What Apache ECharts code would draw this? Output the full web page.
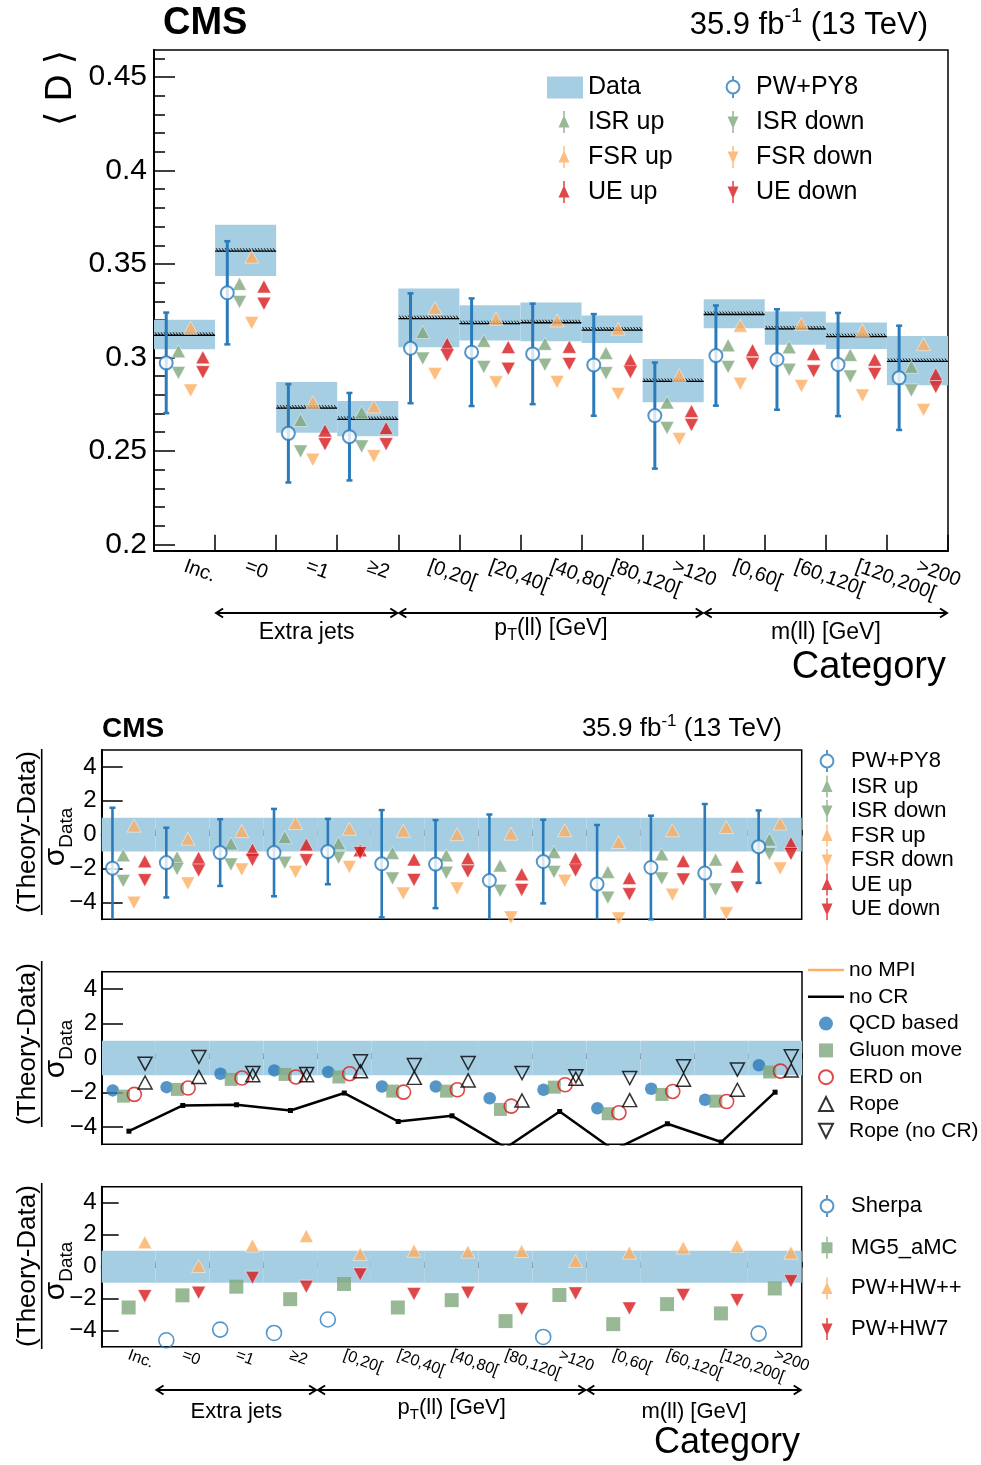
<!DOCTYPE html>
<html>
<head>
<meta charset="utf-8">
<title>CMS mean D</title>
<script src="https://cdn.jsdelivr.net/npm/echarts@6.0.0/dist/echarts.min.js"></script>
<style>
html,body{margin:0;padding:0;background:#ffffff;}
#chart{width:981px;height:1465px;}
</style>
</head>
<body>
<div id="chart"></div>
<script>
// ----------------- data -----------------
const categories = ['Inc.', '=0', '=1', '\u22652', '[0,20[', '[20,40[', '[40,80[', '[80,120[', '>120', '[0,60[', '[60,120[', '[120,200[', '>200'];
const groupLabels = ['{a|Extra jets}', '{a|p}{s|T}{a|(ll) [GeV]}', '{a|m(ll) [GeV]}'];
const groupEdges = [[1, 4], [4, 9], [9, 13]];
const topMajorTicks = [0.2, 0.25, 0.3, 0.35, 0.4, 0.45];
const topMinorTicks = [0.21, 0.22, 0.23, 0.24, 0.26, 0.27, 0.28, 0.29, 0.31, 0.32, 0.33, 0.34, 0.36, 0.37, 0.38, 0.39, 0.41, 0.42, 0.43, 0.44, 0.46];
const pullTicks = [-4, -2, 0, 2, 4];
const pullBand = [-1, 1];

// top panel: <D>
const dataValue = [0.3123, 0.3573, 0.2733, 0.2673, 0.3212, 0.3185, 0.3190, 0.3151, 0.2876, 0.3234, 0.3157, 0.3116, 0.2983];
const dataErr   = [0.0079, 0.0137, 0.0136, 0.0094, 0.0157, 0.0094, 0.0104, 0.0074, 0.0116, 0.0078, 0.0089, 0.0071, 0.0132];
const pwValue   = [0.2971, 0.3346, 0.2594, 0.2576, 0.3049, 0.3028, 0.3019, 0.2960, 0.2689, 0.3010, 0.2989, 0.2962, 0.2891];
const pwErr     = [0.0269, 0.0276, 0.0263, 0.0234, 0.0294, 0.0288, 0.0269, 0.0272, 0.0284, 0.0268, 0.0269, 0.0276, 0.0279];
const isrUp     = [0.3033, 0.3394, 0.2665, 0.2706, 0.3136, 0.3089, 0.3073, 0.3024, 0.2759, 0.3065, 0.3055, 0.3014, 0.2950];
const isrDown   = [0.2917, 0.3297, 0.2497, 0.2524, 0.2994, 0.2949, 0.2961, 0.2916, 0.2622, 0.2949, 0.2934, 0.2898, 0.2823];
const fsrUp     = [0.3159, 0.3539, 0.2761, 0.2738, 0.3265, 0.3208, 0.3198, 0.3154, 0.2905, 0.3170, 0.3180, 0.3145, 0.3071];
const fsrDown   = [0.2823, 0.3184, 0.2452, 0.2472, 0.2911, 0.2867, 0.2869, 0.2805, 0.2563, 0.2859, 0.2847, 0.2796, 0.2719];
const ueUp      = [0.3001, 0.3380, 0.2609, 0.2622, 0.3073, 0.3056, 0.3057, 0.2986, 0.2713, 0.3039, 0.3019, 0.2988, 0.2910];
const ueDown    = [0.2921, 0.3287, 0.2536, 0.2536, 0.3011, 0.2939, 0.2965, 0.2921, 0.2638, 0.2966, 0.2926, 0.2912, 0.2842];

// panel 2: (Theory-Data)/sigma, PW+PY8 variations
const pullPW      = [-1.98, -1.65, -1.06, -1.06, -1.00, -1.72, -1.74, -2.71, -1.59, -2.92, -1.94, -2.27, -0.71];
const pullPWErr   = [3.57, 2.06, 1.97, 2.58, 1.93, 3.17, 2.60, 3.90, 2.47, 3.49, 3.06, 4.08, 2.14];
const pullIsrUp   = [-1.21, -1.34, -0.53, -0.15, -0.51, -1.08, -1.22, -1.82, -1.03, -2.20, -1.16, -1.47, -0.29];
const pullIsrDown = [-2.74, -2.03, -1.76, -1.66, -1.36, -2.59, -2.25, -3.32, -2.20, -3.72, -2.59, -3.24, -1.14];
const pullFsrUp   = [0.53, -0.24, 0.21, 0.69, 0.35, 0.23, 0.03, 0.06, 0.26, -0.44, 0.26, 0.45, 0.65];
const pullFsrDown = [-4.02, -2.88, -2.06, -2.20, -1.91, -3.48, -3.18, -4.89, -2.73, -4.95, -3.55, -4.65, -2.00];
const pullUeUp    = [-1.57, -1.37, -0.87, -0.58, -0.92, -1.47, -1.39, -2.34, -1.41, -2.56, -1.56, -1.88, -0.50];
const pullUeDown  = [-2.69, -2.12, -1.49, -1.51, -1.08, -2.68, -2.18, -3.27, -2.12, -3.52, -2.65, -3.12, -1.14];

// panel 3: colour reconnection / MPI models
const noMPI     = [];
const noCR      = [-4.24, -2.75, -2.71, -3.04, -2.03, -3.68, -3.35, -5.20, -3.10, -5.33, -3.81, -4.87, -1.98];
const qcdBased  = [-1.88, -1.69, -0.91, -0.72, -0.81, -1.65, -1.65, -2.33, -1.84, -2.91, -1.78, -2.42, -0.42];
const gluonMove = [-2.21, -1.82, -1.24, -0.95, -1.10, -1.92, -1.92, -2.98, -1.69, -3.23, -2.11, -2.50, -0.81];
const erdOn     = [-2.11, -1.74, -1.16, -1.10, -0.91, -1.98, -1.84, -2.79, -1.55, -3.17, -1.94, -2.52, -0.76];
const rope      = [-1.42, -1.10, -1.00, -1.00, -0.77, -1.15, -1.30, -2.46, -1.20, -2.44, -1.26, -1.84, -0.72];
const ropeNoCR  = [-0.33, 0.06, -0.87, -0.93, -0.19, -0.41, -0.29, -0.87, -1.06, -1.16, -0.48, -0.67, 0.10];

// panel 4: other generators
const sherpa = [null, -4.60, -3.93, -4.14, -3.30, null, null, null, -4.39, null, null, null, -4.18];
const mg5amc = [-2.55, -1.79, -1.25, -2.03, -1.08, -2.55, -2.09, -3.40, -1.77, -3.59, -2.34, -2.92, -1.36];
const pwHWpp = [1.53, 0.04, 1.32, 1.92, 0.80, 1.00, 0.94, 0.98, 0.36, 0.88, 1.19, 1.30, 0.88];
const pwHW7  = [-1.84, -1.63, -0.69, -1.25, -0.48, -1.71, -1.63, -2.65, -1.67, -2.61, -1.77, -2.09, -0.90];

// ----------------- styles -----------------
const FONT = 'Liberation Sans, Arial, Helvetica, DejaVu Sans, sans-serif';
const C_BLUE = '#2b7bba', C_GREEN = '#80a67a', C_ORANGE = '#fdae61', C_RED = '#d7191c', C_BAND = '#a6cee3';
const CLEAR = 'rgba(255,255,255,0)';
// legend icon shapes
const UP_STEM = 'path://M4.3,0 L5.7,0 L5.7,5.54 L10,15 L5.7,15 L5.7,20 L4.3,20 L4.3,15 L0,15 L4.3,5.54 Z';
const DOWN_STEM = 'path://M4.3,20 L5.7,20 L5.7,14.46 L10,5 L5.7,5 L5.7,0 L4.3,0 L4.3,5 L0,5 L4.3,14.46 Z';
const CIRCLE_STEM = 'path://M7,0 L7,5 M7,19 L7,24 M0,12 A7,7 0 1 1 14,12 A7,7 0 1 1 0,12 Z';
const SQUARE_STEM = 'path://M0,5 L10,5 L10,15 L0,15 Z M4.3,0 L5.7,0 L5.7,20 L4.3,20 Z';
const SQUARE = 'path://M0,0 L10,0 L10,10 L0,10 Z';
const TRI_UP = 'path://M5,0 L10,10 L0,10 Z';
const TRI_DOWN = 'path://M0,0 L10,0 L5,10 Z';
const LINE_ICON = 'path://M0,0 L36,0 L36,2.6 L0,2.6 Z';

const chart = echarts.init(document.getElementById('chart'), null, {renderer: 'canvas', width: 981, height: 1465});

const grids = [
  {left: 154, top: 50, width: 794, height: 500.7},
  {left: 101.7, top: 750, width: 700, height: 169.3},
  {left: 102, top: 971.7, width: 700, height: 172.6},
  {left: 101.7, top: 1186.7, width: 700, height: 160}
].map(g => Object.assign({show: true, borderColor: '#000', borderWidth: 1.5, backgroundColor: CLEAR, containLabel: false, outerBoundsMode: 'none'}, g));

function catAxis(g, o) {
  return {
    type: 'category', gridIndex: g, data: categories, boundaryGap: true, position: 'bottom',
    axisLine: {show: true, lineStyle: {color: '#000', width: 2}},
    axisTick: {show: true, inside: true, length: o.tickLen, alignWithLabel: false, interval: 0, lineStyle: {color: '#000', width: 1.5}},
    axisLabel: {show: o.labels, interval: 0, rotate: -20, margin: o.margin, fontSize: o.fontSize, color: '#000', fontFamily: FONT},
    splitLine: {show: false}, splitArea: {show: false}
  };
}
function valAxisX(g) {
  return {type: 'value', gridIndex: g, min: 0, max: 13, show: false, position: 'bottom', splitLine: {show: false}};
}
function pullAxis(g, tickLen) {
  return {
    type: 'value', gridIndex: g, min: -5, max: 5, position: 'left',
    axisLine: {show: true, lineStyle: {color: '#000', width: 2}},
    axisTick: {show: true, inside: true, length: tickLen, customValues: pullTicks, lineStyle: {color: '#000', width: 1.5}},
    axisLabel: {show: true, customValues: pullTicks, margin: 5, fontSize: 24, color: '#000', fontFamily: FONT,
      formatter: v => (Math.abs(v) > 4.5 ? '' : String(v).replace('-', '\u2212'))},
    splitLine: {show: false}
  };
}

const xAxes = [
  catAxis(0, {tickLen: 16, labels: true, margin: 15, fontSize: 20}), valAxisX(0),
  catAxis(1, {tickLen: 5, labels: false, margin: 8, fontSize: 15}), valAxisX(1),
  catAxis(2, {tickLen: 5, labels: false, margin: 8, fontSize: 15}), valAxisX(2),
  catAxis(3, {tickLen: 5, labels: true, margin: 8, fontSize: 16}), valAxisX(3)
];
const yAxes = [
  {
    type: 'value', gridIndex: 0, min: 0.1966, max: 0.4645, position: 'left',
    axisLine: {show: true, lineStyle: {color: '#000', width: 2}},
    axisTick: {show: true, inside: true, length: 21, customValues: topMajorTicks, lineStyle: {color: '#000', width: 1.5}},
    axisLabel: {show: true, customValues: topMajorTicks, margin: 7, fontSize: 30, color: '#000', fontFamily: FONT,
      formatter: v => String(Math.round(v * 100) / 100)},
    splitLine: {show: false}
  },
  {
    type: 'value', gridIndex: 0, min: 0.1966, max: 0.4645, position: 'left',
    axisLine: {show: false},
    axisTick: {show: true, inside: true, length: 11, customValues: topMinorTicks, lineStyle: {color: '#000', width: 1.5}},
    axisLabel: {show: false},
    splitLine: {show: false}
  },
  pullAxis(1, 21), pullAxis(2, 21), pullAxis(3, 17)
];
const yIdx = [0, 2, 3, 4];

function scatter(name, g, arr, off, sym, size, style, extra) {
  return Object.assign({
    name: name, type: 'scatter', xAxisIndex: 2 * g + 1, yAxisIndex: yIdx[g],
    data: arr.map((v, i) => (v == null ? null : [i + off, v])).filter(d => d),
    symbol: sym, symbolSize: size, symbolKeepAspect: true, itemStyle: style,
    z: 5, silent: true, clip: true, emphasis: {disabled: true}
  }, extra || {});
}
function errorBars(name, g, vals, errs, off, color, lw) {
  return {
    name: name, type: 'custom', xAxisIndex: 2 * g + 1, yAxisIndex: yIdx[g], z: 3, silent: true,
    data: vals.map((v, i) => [i + off, v, errs[i]]),
    renderItem: function (params, api) {
      const x = api.value(0), v = api.value(1), e = api.value(2);
      const cs = params.coordSys;
      const px = api.coord([x, v])[0];
      const yHi = api.coord([x, v + e])[1], yLo = api.coord([x, v - e])[1];
      const top = cs.y, bot = cs.y + cs.height;
      const a = Math.max(top, yHi), b = Math.min(bot, yLo);
      const ch = [{type: 'line', shape: {x1: px, y1: a, x2: px, y2: b}, style: {stroke: color, lineWidth: lw}}];
      if (yHi >= top) ch.push({type: 'line', shape: {x1: px - 3, y1: yHi, x2: px + 3, y2: yHi}, style: {stroke: color, lineWidth: 2.5}});
      if (yLo <= bot) ch.push({type: 'line', shape: {x1: px - 3, y1: yLo, x2: px + 3, y2: yLo}, style: {stroke: color, lineWidth: 2.5}});
      return {type: 'group', children: ch};
    }
  };
}
function band(g) {
  return {
    name: 'band' + g, type: 'custom', xAxisIndex: 2 * g + 1, yAxisIndex: yIdx[g], z: 1, silent: true,
    data: categories.map((c, i) => [i, pullBand[0], pullBand[1]]),
    renderItem: function (params, api) {
      const i = api.value(0);
      const p0 = api.coord([i, api.value(2)]), p1 = api.coord([i + 1, api.value(1)]);
      return {type: 'rect', shape: {x: p0[0], y: p0[1], width: p1[0] - p0[0], height: p1[1] - p0[1]}, style: {fill: C_BAND}};
    }
  };
}
const tri = (c) => ({color: c, borderColor: '#ffffff', borderWidth: 0.6});
const DOWN = {symbolRotate: 180};
const TS = [14, 13];

const series = [];
// ---- top panel
series.push({
  name: 'Data', type: 'custom', xAxisIndex: 1, yAxisIndex: 0, z: 1, silent: true,
  itemStyle: {color: C_BAND},
  data: dataValue.map((v, i) => [i, v, dataErr[i]]),
  renderItem: function (params, api) {
    const i = api.value(0), v = api.value(1), e = api.value(2);
    const pTop = api.coord([i, v + e]);
    const pBot = api.coord([i + 1, v - e]);
    const y = api.coord([i, v])[1];
    const x0 = pTop[0], x1 = pBot[0];
    const ch = [{type: 'rect', shape: {x: x0, y: pTop[1], width: x1 - x0, height: pBot[1] - pTop[1]}, style: {fill: C_BAND}}];
    ch.push({type: 'line', shape: {x1: x0, y1: y + 0.8, x2: x1, y2: y + 0.8}, style: {stroke: '#000', lineWidth: 1.3}});
    for (let x = x0 + 1; x < x1 - 2; x += 3) {
      ch.push({type: 'line', shape: {x1: x, y1: y - 2.2, x2: x + 2.4, y2: y + 1.4}, style: {stroke: '#000', lineWidth: 0.9}});
    }
    return {type: 'group', children: ch};
  }
});
series.push(scatter('PW+PY8', 0, pwValue, 0.2, 'circle', 13, {color: '#ffffff', borderColor: C_BLUE, borderWidth: 2}, {z: 6}));
series.push(errorBars('PW+PY8 unc', 0, pwValue, pwErr, 0.2, C_BLUE, 3));
series.push(scatter('ISR up', 0, isrUp, 0.4, 'triangle', TS, tri(C_GREEN)));
series.push(scatter('ISR down', 0, isrDown, 0.4, 'triangle', TS, tri(C_GREEN), DOWN));
series.push(scatter('FSR up', 0, fsrUp, 0.6, 'triangle', TS, tri(C_ORANGE)));
series.push(scatter('FSR down', 0, fsrDown, 0.6, 'triangle', TS, tri(C_ORANGE), DOWN));
series.push(scatter('UE up', 0, ueUp, 0.8, 'triangle', TS, tri(C_RED)));
series.push(scatter('UE down', 0, ueDown, 0.8, 'triangle', TS, tri(C_RED), DOWN));

// ---- panel 2
series.push(band(1));
series.push(scatter('PW+PY8', 1, pullPW, 0.2, 'circle', 13, {color: '#ffffff', borderColor: C_BLUE, borderWidth: 2}, {z: 6}));
series.push(errorBars('PW+PY8 pull unc', 1, pullPW, pullPWErr, 0.2, C_BLUE, 2.6));
series.push(scatter('ISR up', 1, pullIsrUp, 0.4, 'triangle', TS, tri(C_GREEN)));
series.push(scatter('ISR down', 1, pullIsrDown, 0.4, 'triangle', TS, tri(C_GREEN), DOWN));
series.push(scatter('FSR up', 1, pullFsrUp, 0.6, 'triangle', TS, tri(C_ORANGE)));
series.push(scatter('FSR down', 1, pullFsrDown, 0.6, 'triangle', TS, tri(C_ORANGE), DOWN));
series.push(scatter('UE up', 1, pullUeUp, 0.8, 'triangle', TS, tri(C_RED)));
series.push(scatter('UE down', 1, pullUeDown, 0.8, 'triangle', TS, tri(C_RED), DOWN));

// ---- panel 3
series.push(band(2));
series.push({
  name: 'no MPI', type: 'line', xAxisIndex: 5, yAxisIndex: 3, z: 4, silent: true, clip: true,
  data: noMPI.map((v, i) => [i + 0.5, v]), symbol: 'none',
  lineStyle: {color: C_ORANGE, width: 2.5}, itemStyle: {color: C_ORANGE}
});
series.push({
  name: 'no CR', type: 'line', xAxisIndex: 5, yAxisIndex: 3, z: 4, silent: true, clip: true,
  data: noCR.map((v, i) => [i + 0.5, v]), symbol: 'rect', symbolSize: 5, showSymbol: true,
  lineStyle: {color: '#000', width: 2.5}, itemStyle: {color: '#000'}
});
series.push(scatter('QCD based', 2, qcdBased, 0.2, 'circle', 12.5, {color: C_BLUE}));
series.push(scatter('Gluon move', 2, gluonMove, 0.4, 'rect', 13, {color: C_GREEN}));
series.push(scatter('ERD on', 2, erdOn, 0.6, 'circle', 14, {color: CLEAR, borderColor: C_RED, borderWidth: 1.6}));
series.push(scatter('Rope', 2, rope, 0.8, 'triangle', [14, 13], {color: CLEAR, borderColor: '#000', borderWidth: 1.5}));
series.push(scatter('Rope (no CR)', 2, ropeNoCR, 0.8, 'triangle', [14, 13], {color: CLEAR, borderColor: '#000', borderWidth: 1.5}, DOWN));

// ---- panel 4
series.push(band(3));
series.push(scatter('Sherpa', 3, sherpa, 0.2, 'circle', 15, {color: CLEAR, borderColor: C_BLUE, borderWidth: 1.6}));
series.push(scatter('MG5_aMC', 3, mg5amc, 0.5, 'rect', 14, {color: C_GREEN}));
series.push(scatter('PW+HW++', 3, pwHWpp, 0.8, 'triangle', TS, tri(C_ORANGE)));
series.push(scatter('PW+HW7', 3, pwHW7, 0.8, 'triangle', TS, tri(C_RED), DOWN));

// NOTE: ECharts aligns a legend by the bounding box of its content, so a legend whose
// icons are narrower than itemWidth is shifted; "left" below compensates for that inset.
function legend(o) {
  return Object.assign({
    orient: 'vertical', padding: 0, selectedMode: false, symbolKeepAspect: true,
    textStyle: {color: '#000', fontFamily: FONT, fontSize: o.fs, lineHeight: o.fs}
  }, o);
}
const NB = {borderWidth: 0};
const legends = [
  legend({data: [{name: 'Data', icon: 'rect'}], left: 547, top: 75, itemWidth: 36, itemHeight: 22, fs: 25}),
  legend({data: [{name: 'ISR up', icon: UP_STEM, itemStyle: NB}, {name: 'FSR up', icon: UP_STEM, itemStyle: NB}, {name: 'UE up', icon: UP_STEM, itemStyle: NB}],
    left: 558.5, top: 109.5, itemWidth: 38, itemHeight: 22, itemGap: 10, fs: 25}),
  legend({data: [{name: 'PW+PY8', icon: CIRCLE_STEM}, {name: 'ISR down', icon: DOWN_STEM, itemStyle: NB}, {name: 'FSR down', icon: DOWN_STEM, itemStyle: NB}, {name: 'UE down', icon: DOWN_STEM, itemStyle: NB}],
    left: 725.6, top: 74.5, itemWidth: 36, itemHeight: 22, itemGap: 10, fs: 25}),
  legend({data: [{name: 'PW+PY8', icon: CIRCLE_STEM}, {name: 'ISR up', icon: UP_STEM, itemStyle: NB}, {name: 'ISR down', icon: DOWN_STEM, itemStyle: NB},
      {name: 'FSR up', icon: UP_STEM, itemStyle: NB}, {name: 'FSR down', icon: DOWN_STEM, itemStyle: NB}, {name: 'UE up', icon: UP_STEM, itemStyle: NB}, {name: 'UE down', icon: DOWN_STEM, itemStyle: NB}],
    left: 819.6, top: 749, itemWidth: 38, itemHeight: 22, itemGap: 2.5, fs: 22}),
  legend({data: [{name: 'no MPI', icon: LINE_ICON}, {name: 'no CR', icon: LINE_ICON}, {name: 'QCD based', icon: 'circle'}, {name: 'Gluon move', icon: SQUARE},
      {name: 'ERD on', icon: 'circle'}, {name: 'Rope', icon: TRI_UP}, {name: 'Rope (no CR)', icon: TRI_DOWN}],
    left: 808, top: 959.5, itemWidth: 36, itemHeight: 14, itemGap: 5.8, fs: 21}),
  legend({data: [{name: 'Sherpa', icon: CIRCLE_STEM}, {name: 'MG5_aMC', icon: SQUARE_STEM}, {name: 'PW+HW++', icon: UP_STEM, itemStyle: NB}, {name: 'PW+HW7', icon: DOWN_STEM, itemStyle: NB}],
    left: 819.6, top: 1194, itemWidth: 38, itemHeight: 22, itemGap: 18.7, fs: 22})
];

chart.setOption({
  animation: false,
  backgroundColor: '#ffffff',
  textStyle: {fontFamily: FONT, color: '#000'},
  grid: grids,
  xAxis: xAxes,
  yAxis: yAxes,
  legend: legends,
  series: series
});

// ----------------- annotations -----------------
function txt(x, y, text, fontSize, o) {
  o = o || {};
  const align = o.align || 'center';
  return {
    type: 'text', x: x, y: y, rotation: o.rotation || 0, silent: true, z: 100,
    style: {
      text: text, fill: '#000', fontSize: fontSize, fontFamily: FONT, fontWeight: o.bold ? 'bold' : 'normal',
      align: align, textAlign: align, verticalAlign: 'middle', textVerticalAlign: 'middle', rich: o.rich
    }
  };
}
function richSub(fs, sub, lh) {
  return {
    a: {fontSize: fs, lineHeight: lh, fontFamily: FONT, fill: '#000'},
    s: {fontSize: sub, lineHeight: sub, fontFamily: FONT, fill: '#000', verticalAlign: 'bottom'}
  };
}
function richSup(fs, sup, lh) {
  return {
    a: {fontSize: fs, lineHeight: lh, fontFamily: FONT, fill: '#000'},
    s: {fontSize: sup, lineHeight: sup, fontFamily: FONT, fill: '#000', verticalAlign: 'top'}
  };
}
function groupGraphics(xAxisIndex, yArrow, yLabel, fs) {
  const els = [];
  groupEdges.forEach(function (ge, k) {
    const xa = chart.convertToPixel({xAxisIndex: xAxisIndex}, ge[0]);
    const xb = chart.convertToPixel({xAxisIndex: xAxisIndex}, ge[1]);
    const st = {stroke: '#000', lineWidth: 2, fill: null};
    els.push({type: 'line', silent: true, shape: {x1: xa + 1, y1: yArrow, x2: xb - 1, y2: yArrow}, style: st});
    els.push({type: 'polyline', silent: true, shape: {points: [[xa + 8, yArrow - 4.5], [xa + 1, yArrow], [xa + 8, yArrow + 4.5]]}, style: st});
    els.push({type: 'polyline', silent: true, shape: {points: [[xb - 8, yArrow - 4.5], [xb - 1, yArrow], [xb - 8, yArrow + 4.5]]}, style: st});
    const hasSub = groupLabels[k].indexOf('{s|') >= 0;
    els.push(txt((xa + xb) / 2, yLabel - (hasSub ? 4 : 0), groupLabels[k], fs, {rich: richSub(fs, Math.round(fs * 0.68), Math.round(fs * 1.3))}));
  });
  return els;
}
function pullTitle(cy) {
  return [
    txt(28, cy, '(Theory-Data)', 26, {rotation: Math.PI / 2}),
    {type: 'line', silent: true, shape: {x1: 41.7, y1: cy - 83, x2: 41.7, y2: cy + 83}, style: {stroke: '#000', lineWidth: 1.6}},
    txt(56, cy + 5, '{a|\u03c3}{s|Data}', 30, {rotation: Math.PI / 2, rich: richSub(30, 19, 40)})
  ];
}

const graphics = [].concat(
  [
    txt(163, 24, 'CMS', 38, {bold: true, align: 'left'}),
    txt(928, 25, '{a|35.9 fb}{s|-1}{a| (13 TeV)}', 31, {align: 'right', rich: richSup(31, 20, 37)}),
    txt(61, 88, '\u27e8 D \u27e9', 37, {rotation: Math.PI / 2}),
    txt(946, 668, 'Category', 38, {align: 'right'}),
    txt(102, 729, 'CMS', 28, {bold: true, align: 'left'}),
    txt(782, 729, '{a|35.9 fb}{s|-1}{a| (13 TeV)}', 26, {align: 'right', rich: richSup(26, 17, 32)}),
    txt(800, 1443, 'Category', 36, {align: 'right'})
  ],
  groupGraphics(1, 613, 633, 23),
  groupGraphics(7, 1390, 1412, 22),
  pullTitle(832), pullTitle(1044), pullTitle(1266)
);

chart.setOption({graphic: {elements: graphics}});
</script>
</body>
</html>
